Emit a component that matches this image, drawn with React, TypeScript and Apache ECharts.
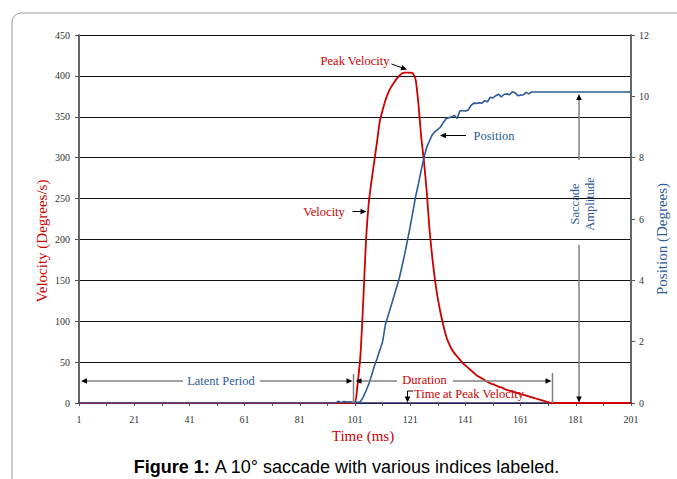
import React, { useEffect, useRef } from "react";
import * as echarts from "echarts";

// Time axis categories (ms)
const times: string[] = Array.from({ length: 201 }, (_, i) => String(i + 1));

// Velocity (deg/s), one value per ms from 1 to 201
const velocity: number[] = [
  // 1-100
  0, 0, 0, 0, 0, 0, 0, 0, 0, 0, 0, 0, 0, 0, 0, 0, 0, 0, 0, 0,
  0, 0, 0, 0, 0, 0, 0, 0, 0, 0, 0, 0, 0, 0, 0, 0, 0, 0, 0, 0,
  0, 0, 0, 0, 0, 0, 0, 0, 0, 0, 0, 0, 0, 0, 0, 0, 0, 0, 0, 0,
  0, 0, 0, 0, 0, 0, 0, 0, 0, 0, 0, 0, 0, 0, 0, 0, 0, 0, 0, 0,
  0, 0, 0, 0, 0, 0, 0, 0, 0, 0, 0, 0, 0, 0, 0, 0, 0, 0, 0, 0,
  // 101-120
  0, 25, 60, 125, 200, 245, 272, 296, 320, 345, 358, 370, 379, 386, 391, 396, 400, 403, 404, 404,
  // 121-140
  404, 403, 395, 365, 325, 295, 258, 212, 178, 150, 128, 110, 95, 82, 73, 66, 61, 57, 53, 49,
  // 141-160
  46, 43, 40, 37, 34, 32, 30, 28, 26, 24, 23, 21.5, 20, 19, 17.5, 16, 15, 14, 13, 12,
  // 161-180
  11, 10, 9, 8, 7, 6, 5, 4, 3, 2, 1, 0, 0, 0, 0, 0, 0, 0, 0, 0,
  // 181-201
  0, 0, 0, 0, 0, 0, 0, 0, 0, 0, 0, 0, 0, 0, 0, 0, 0, 0, 0, 0, 0,
];

// Position (deg), one value per ms from 1 to 201
const position: number[] = [
  // 1-93
  0, 0, 0, 0, 0, 0, 0, 0, 0, 0, 0, 0, 0, 0, 0, 0, 0, 0, 0, 0,
  0, 0, 0, 0, 0, 0, 0, 0, 0, 0, 0, 0, 0, 0, 0, 0, 0, 0, 0, 0,
  0, 0, 0, 0, 0, 0, 0, 0, 0, 0, 0, 0, 0, 0, 0, 0, 0, 0, 0, 0,
  0, 0, 0, 0, 0, 0, 0, 0, 0, 0, 0, 0, 0, 0, 0, 0, 0, 0, 0, 0,
  0, 0, 0, 0, 0, 0, 0, 0, 0, 0, 0, 0, 0,
  // 94-110
  0, 0.06, 0.01, 0.05, 0.03, 0.04, 0.02, 0.02, 0.02, 0.05, 0.2, 0.4, 0.62, 0.9, 1.2, 1.45, 1.73,
  // 111-130
  2.0, 2.55, 2.85, 3.15, 3.45, 3.75, 4.05, 4.45, 4.85, 5.3, 5.75, 6.25, 6.75, 7.15, 7.6, 8.0, 8.35, 8.55, 8.75, 8.85,
  // 131-150
  8.92, 9.0, 9.15, 9.27, 9.3, 9.33, 9.38, 9.28, 9.53, 9.53, 9.52, 9.55, 9.7, 9.78, 9.77, 9.79, 9.78, 9.86, 9.82, 9.97,
  // 151-165
  9.95, 10.02, 10.07, 9.98, 10.06, 10.08, 10.05, 10.15, 10.12, 10.02, 10.04, 10.05, 10.13, 10.08, 10.14,
  // 166-201
  10.14, 10.14, 10.14, 10.14, 10.14, 10.14, 10.14, 10.14, 10.14, 10.14, 10.14, 10.14,
  10.14, 10.14, 10.14, 10.14, 10.14, 10.14, 10.14, 10.14, 10.14, 10.14, 10.14, 10.14,
  10.14, 10.14, 10.14, 10.14, 10.14, 10.14, 10.14, 10.14, 10.14, 10.14, 10.14, 10.14,
];

const RED = "#cc0000";
const BLUE = "#2e5b96";
const SERIF = '"Liberation Serif", "Times New Roman", serif';

function arrowHead(tx: number, ty: number, dx: number, dy: number, color = "#000") {
  const L = 6;
  const W = 2.8;
  const len = Math.hypot(dx, dy);
  const ux = dx / len;
  const uy = dy / len;
  const bx = tx - ux * L;
  const by = ty - uy * L;
  return {
    type: "polygon",
    z: 100,
    shape: { points: [[tx, ty], [bx - uy * W, by + ux * W], [bx + uy * W, by - ux * W]] },
    style: { fill: color },
  };
}

function seg(x1: number, y1: number, x2: number, y2: number, color = "#000", w = 1) {
  return { type: "line", z: 99, shape: { x1, y1, x2, y2 }, style: { stroke: color, lineWidth: w } };
}

function label(text: string, x: number, y: number, color: string, size = 12.5, align = "center", rotation = 0) {
  return {
    type: "text",
    z: 101,
    x,
    y,
    rotation,
    style: {
      text,
      fill: color,
      fontSize: size,
      fontFamily: SERIF,
      align,
      verticalAlign: "middle",
      lineHeight: 15,
    },
  };
}

export default function App() {
  const ref = useRef<HTMLDivElement>(null);
  useEffect(() => {
    if (!ref.current) return;
    const chart = echarts.init(ref.current, null, { renderer: "svg" });
    const GRAY = "#808080";
    const option: any = {
      animation: false,
      backgroundColor: "#fff",
      grid: { left: 79, right: 46, top: 35, bottom: 76, containLabel: false },
      xAxis: {
        type: "category",
        data: times,
        boundaryGap: false,
        axisLine: { show: true, lineStyle: { color: "#2a2a66", width: 1.5 } },
        axisTick: { show: true, interval: 9, length: 3, lineStyle: { color: "#555" } },
        axisLabel: { interval: 19, fontSize: 10, fontFamily: SERIF, color: "#333", margin: 11 },
        splitLine: { show: false },
      },
      yAxis: [
        {
          type: "value",
          min: 0,
          max: 450,
          interval: 50,
          axisLine: { show: true, lineStyle: { color: "#666", width: 2 } },
          axisTick: { show: true, length: 4, lineStyle: { color: "#555" } },
          axisLabel: { fontSize: 10, fontFamily: SERIF, color: "#333", margin: 9 },
          splitLine: { show: true, lineStyle: { color: "#111", width: 1 } },
        },
        {
          type: "value",
          position: "right",
          min: 0,
          max: 12,
          interval: 2,
          axisLine: { show: true, lineStyle: { color: "#666", width: 2 } },
          axisTick: { show: true, length: 4, lineStyle: { color: "#555" } },
          axisLabel: { fontSize: 10, fontFamily: SERIF, color: "#333", margin: 8 },
          splitLine: { show: false },
        },
      ],
      series: [
        {
          name: "Velocity",
          type: "line",
          yAxisIndex: 0,
          data: velocity,
          showSymbol: false,
          smooth: 0.2,
          lineStyle: { color: RED, width: 1.8 },
          itemStyle: { color: RED },
          z: 3,
        },
        {
          name: "Position",
          type: "line",
          yAxisIndex: 1,
          data: position,
          showSymbol: false,
          lineStyle: { color: BLUE, width: 1.6 },
          itemStyle: { color: BLUE },
          z: 4,
        },
      ],
      graphic: {
        elements: [
          // frame
          {
            type: "rect",
            z: -10,
            shape: { x: 12, y: 13, width: 720, height: 520, r: 9 },
            style: { fill: "none", stroke: "#9a9a9a", lineWidth: 1 },
          },
          // axis titles
          label("Velocity (Degrees/s)", 42, 241, RED, 15, "center", Math.PI / 2),
          label("Position (Degrees)", 662, 239, BLUE, 15, "center", Math.PI / 2),
          label("Time (ms)", 363, 436, RED, 15, "center"),
          // Peak velocity
          label("Peak Velocity", 355, 60.5, RED),
          seg(391.5, 64, 402, 67.8),
          arrowHead(407, 69.6, 15, 5.4),
          // Velocity
          label("Velocity", 324, 211.5, RED),
          seg(352.5, 211.5, 361, 211.5),
          arrowHead(366.5, 211.5, 1, 0),
          // Position
          label("Position", 494, 135.5, BLUE),
          seg(466, 135.5, 445, 135.5),
          arrowHead(440, 135.5, -1, 0),
          // Latent period
          label("Latent Period", 221, 381, BLUE),
          seg(86, 381, 183, 381, GRAY, 1.5),
          seg(260, 381, 348, 381, GRAY, 1.5),
          arrowHead(81, 381, -1, 0),
          arrowHead(352.5, 381, 1, 0),
          seg(353.5, 374, 353.5, 403, GRAY, 1.5),
          // Duration
          label("Duration", 424.5, 379.5, RED),
          seg(360, 381, 397, 381, GRAY, 1.5),
          seg(453, 381, 546, 381, GRAY, 1.5),
          arrowHead(355.5, 381, -1, 0),
          arrowHead(551.5, 381, 1, 0),
          seg(552.5, 373, 552.5, 403, GRAY, 1.5),
          // Time at peak velocity
          label("Time at Peak Velocity", 414, 393.5, RED, 12.5, "left"),
          {
            type: "polyline",
            z: 99,
            shape: { points: [[413, 391], [407.5, 391], [407.5, 397]] },
            style: { stroke: "#000", lineWidth: 1, fill: "none" },
          },
          arrowHead(407.5, 402.5, 0, 1),
          // Saccade amplitude
          label("Saccade\nAmplitude", 582, 204, BLUE, 12.5, "center", Math.PI / 2),
          seg(579, 99, 579, 160, GRAY, 1.5),
          arrowHead(579, 94, 0, -1),
          seg(579, 245, 579, 397, GRAY, 1.5),
          arrowHead(579, 402.5, 0, 1),
          // caption
          {
            type: "text",
            z: 101,
            x: 347,
            y: 467,
            style: {
              text: "{b|Figure 1:} A 10° saccade with various indices labeled.",
              fill: "#000",
              fontSize: 18,
              fontFamily: '"Liberation Sans", Arial, sans-serif',
              align: "center",
              verticalAlign: "middle",
              rich: {
                b: {
                  fontWeight: "bold",
                  fontSize: 18,
                  fontFamily: '"Liberation Sans", Arial, sans-serif',
                  fill: "#000",
                },
              },
            },
          },
        ],
      },
    };
    chart.setOption(option);
    return () => chart.dispose();
  }, []);
  return (
    <div
      ref={ref}
      style={{ position: "fixed", left: 0, top: 0, width: 677, height: 479, background: "#fff" }}
    />
  );
}
